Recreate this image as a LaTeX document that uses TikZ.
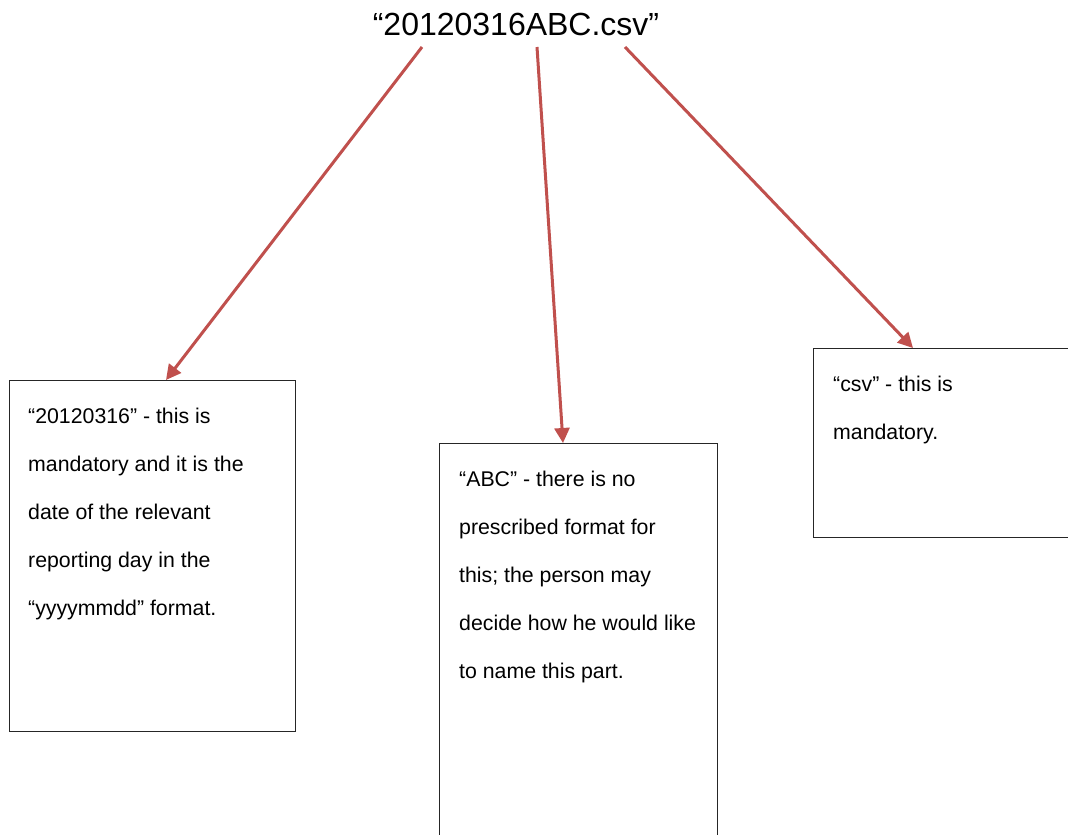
\documentclass[tikz,border=0pt]{standalone}
\usepackage{fontspec}
\setmainfont{Liberation Sans}
\usetikzlibrary{arrows.meta,calc}
\definecolor{arrowred}{HTML}{C0504D}
\definecolor{boxline}{HTML}{262626}
\tikzset{
  infobox/.style={draw=boxline, line width=1.3pt, fill=white, anchor=north west, inner sep=0pt},
  boxtext/.style={anchor=base west, inner sep=0pt, font=\fontsize{21.3}{48}\selectfont},
  pointer/.style={draw=arrowred, line width=3pt, -{Triangle[length=15pt,width=15pt]}},
}
\newcommand{\textlines}[1]{\vtop{\baselineskip=48pt\lineskiplimit=-100pt #1}}
\begin{document}
\begin{tikzpicture}[x=1pt,y=-1pt]
\clip (0,0) rectangle (1068,835);
\fill[white] (0,0) rectangle (1068,835);
\node[anchor=base, inner sep=0pt, font=\fontsize{32}{38}\selectfont] (title) at (516,35) {“20120316ABC.csv”};
\node[infobox, minimum width=286pt, minimum height=351pt] (box1) at (9,380) {};
\node[infobox, minimum width=278pt, minimum height=460pt] (box2) at (439,443) {};
\node[infobox, minimum width=290pt, minimum height=189pt] (box3) at (813,348) {};
\node[boxtext] (t1) at (28,423) {\textlines{\hbox{“20120316” - this is}\hbox{mandatory and it is the}\hbox{date of the relevant}\hbox{reporting day in the}\hbox{“yyyymmdd” format.}}};
\node[boxtext] (t2) at (459,486) {\textlines{\hbox{“ABC” - there is no}\hbox{prescribed format for}\hbox{this; the person may}\hbox{decide how he would like}\hbox{to name this part.}}};
\node[boxtext] (t3) at (833,391) {\textlines{\hbox{“csv” - this is}\hbox{mandatory.}}};
\coordinate (s1) at ($(title.base)+(-94,12)$);
\coordinate (s2) at ($(title.base)+(21,12)$);
\coordinate (s3) at ($(title.base)+(109,12)$);
\coordinate (e1) at ($(box1.north west)+(157,0)$);
\coordinate (e2) at ($(box2.north west)+(124,0)$);
\coordinate (e3) at ($(box3.north west)+(100,0)$);
\draw[pointer] (s1) -- (e1);
\draw[pointer] (s2) -- (e2);
\draw[pointer] (s3) -- (e3);
\end{tikzpicture}
\end{document}
